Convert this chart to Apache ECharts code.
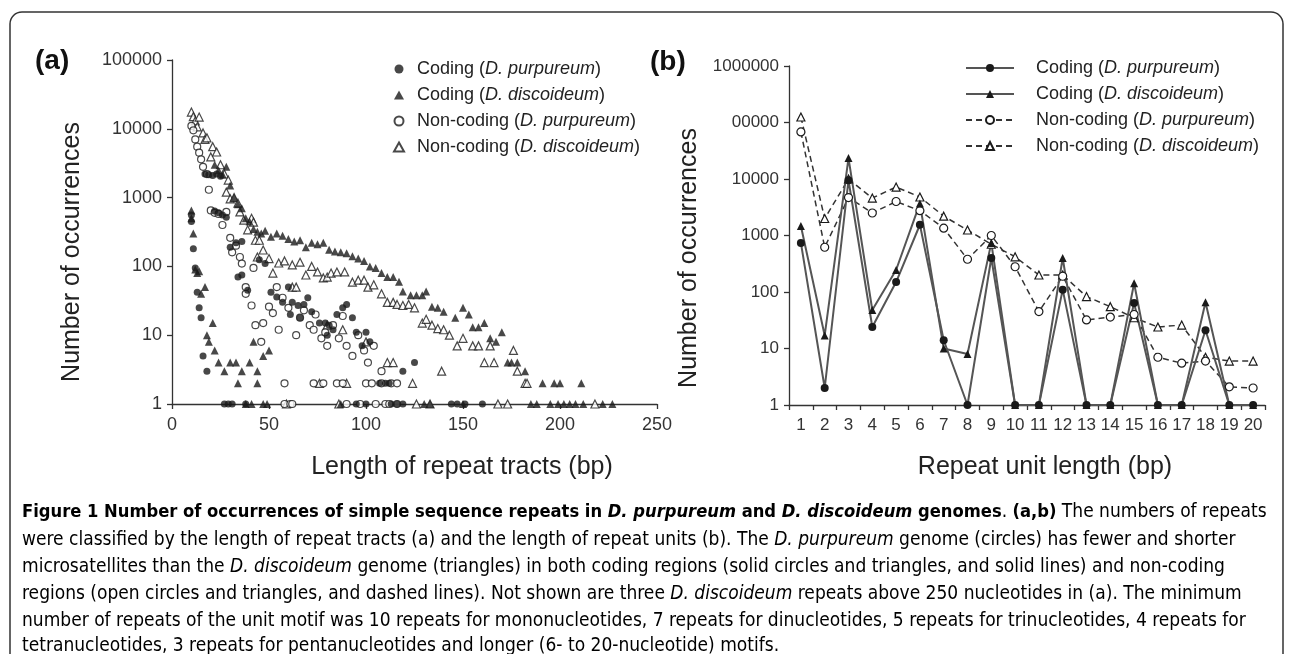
<!DOCTYPE html>
<html>
<head>
<meta charset="utf-8">
<script src="https://cdn.jsdelivr.net/npm/echarts@6/dist/echarts.min.js"></script>
<style>
html,body{margin:0;padding:0;background:#fff;}
#main{width:1290px;height:654px;}
</style>
</head>
<body>
<div id="main"></div>
<script>
// (a) [length of repeat tract (bp), number of occurrences]
var codingPurA = [
  [10,560],[10,450],[11,180],[12,95],[13,42],[14,25],[15,18],[16,5],[18,3],
  [17,2200],[19,2150],[21,2100],[23,2200],[25,2050],
  [22,640],[24,600],[26,560],[28,520],
  [30,190],[33,220],[36,230],[34,70],[36,75],[39,45],[45,125],[48,110],
  [51,42],[54,36],[57,30],[60,50],[62,30],[65,27],[68,28],[70,35],[61,20],[66,18],[72,22],
  [76,15],[79,15],[81,14],[83,12],[85,20],[88,25],[90,28],[93,18],[95,11],[100,11],[80,10],
  [98,7],[102,8],[107,2],[110,2],[112,2],[119,3],[125,4],
  [27,1],[29,1],[31,1],[38,1],[95,1],[100,1],[113,1],[116,1],[119,1],[144,1],[147,1],[151,1],[160,1]
];
var codingDisA = [
  [10,650],[10,500],[11,300],[12,90],[13,80],[14,85],[15,40],[17,50],[18,10],[19,8],[21,15],
  [22,6],[24,4],[27,3],[30,4],[33,4],[36,3],[40,4],[44,3],[34,2],[44,2],[47,5],[50,6],[42,8],
  [22,3000],[24,2500],[26,2200],[28,2800],[30,1500],[32,1000],[34,800],[36,700],[38,500],[40,450],
  [42,350],[44,320],[46,300],[48,330],[51,270],[54,300],[57,280],[60,250],[63,230],[66,240],
  [69,190],[72,220],[75,210],[78,220],[81,175],[84,165],[87,160],[90,155],[93,140],[96,130],
  [99,120],[102,100],[105,95],[108,80],[111,70],[114,70],[117,60],[119,43],[123,38],[126,38],
  [129,38],[131,43],[134,26],[137,25],[140,22],[146,18],[150,25],[153,20],[155,13],[158,13],
  [161,15],[164,9],[167,8],[170,11],[173,4],[175,4],[178,4],[182,3],[191,2],[197,2],[200,2],[211,2],
  [38,1],[41,1],[47,1],[49,1],[87,1],[130,1],[133,1],[150,1],[185,1],[188,1],[195,1],[199,1],
  [202,1],[205,1],[208,1],[212,1],[222,1],[227,1]
];
var nonPurA = [
  [10,11000],[11,9500],[12,7000],[13,5500],[14,4500],[15,3600],[16,2800],[18,2200],[19,1300],
  [20,650],[22,600],[24,580],[26,400],[28,620],[30,260],[31,160],[33,200],[35,137],[36,110],
  [38,50],[38,40],[41,27],[42,95],[43,14],[46,8],[47,15],[50,26],[52,21],[54,50],[55,12],[57,35],
  [60,25],[64,10],[66,18],[68,23],[71,14],[73,12],[74,20],[77,9],[79,11],[80,7],[83,14],[86,9],
  [88,19],[90,7],[93,5],[96,10],[99,6],[101,4],[104,7],[108,3],
  [58,2],[73,2],[78,2],[85,2],[88,2],[100,2],[103,2],[108,2],[113,2],[116,2],
  [58,1],[61,1],[62,1],[90,1],[97,1],[105,1],[110,1],[112,1],[116,1]
];
var nonDisA = [
  [10,17500],[11,15000],[12,13000],[13,10700],[14,14800],[16,8700],[17,7000],[18,7400],[20,3900],
  [21,5500],[23,4600],[25,3000],[27,2200],[28,1200],[29,1800],[30,960],[32,1000],[34,830],[35,620],
  [37,470],[39,340],[41,500],[42,440],[43,240],[44,137],[45,240],[47,173],[50,130],[52,80],[55,112],
  [58,120],[62,105],[62,50],[66,115],[69,75],[72,100],[75,83],[78,68],[80,70],[82,80],[85,83],
  [89,83],[93,59],[96,63],[99,63],[101,50],[104,54],[108,40],[111,30],[114,30],[116,28],[119,27],
  [122,28],[125,25],[129,15],[131,17],[134,14],[137,12.5],[140,12],[143,10],[147,7],[150,9],
  [155,7],[158,7],[161,4],[164,7],[166,4],[176,6],[178,3],[182,2],
  [64,50],[80,14],[88,12],[100,8],[111,4],[114,4],[139,3],[124,2],[183,2],[76,2],[90,2],
  [59,1],[86,1],[126,1],[133,1],[168,1],[173,1],[218,1]
];

// (b) repeat unit length (bp)
var unitLengths = ['1','2','3','4','5','6','7','8','9','10','11','12','13','14','15','16','17','18','19','20'];
var codingPurB = [740, 2, 9500, 24, 150, 1550, 14, 1, 400, 1, 1, 110, 1, 1, 64, 1, 1, 21, 1, 1];
var codingDisB = [1470, 17, 23500, 48, 245, 3700, 10, 8, 740, 1, 1, 400, 1, 1, 143, 1, 1, 66, 1, 1];
var nonPurB = [68000, 620, 4700, 2500, 4000, 2750, 1350, 380, 1000, 280, 45, 190, 32, 36, 40, 7, 5.5, 6, 2.1, 2];
var nonDisB = [125000, 2000, 10000, 4600, 7200, 4800, 2200, 1250, 700, 420, 200, 200, 83, 55, 35, 24, 26, 7, 6, 6];

// tick labels of the log axes ("00000" is clipped in the original figure)
var yTicksA = ['1','10','100','1000','10000','100000'];
var yTicksB = ['1','10','100','1000','10000','00000','1000000'];

// legend text: [prefix, species]
var legendParts = [
  ['Coding', 'D. purpureum'],
  ['Coding', 'D. discoideum'],
  ['Non-coding', 'D. purpureum'],
  ['Non-coding', 'D. discoideum']
];

var FONT = '"Liberation Sans", Arial, sans-serif';
var CAPFONT = '"Liberation Sans Narrow", "DejaVu Sans Condensed", sans-serif';
var INK = '#1a1a1a';
var AXIS = '#333';

var chart = echarts.init(document.getElementById('main'), null, {renderer: 'canvas'});

function logLabel(ticks) {
  return function (v) {
    var i = Math.round(Math.log(v) / Math.LN10);
    return ticks[i] !== undefined ? ticks[i] : '';
  };
}

function legendFmt(name) {
  var p = legendParts[+name.charAt(1)];
  return '{s|}{n|' + p[0] + ' (}{i|' + p[1] + '}{n|)}';
}

function legendRich(gap) {
  return {
    s: {width: gap},
    n: {fontFamily: FONT, fontSize: 18, color: '#222', lineHeight: 20},
    i: {fontFamily: FONT, fontSize: 18, color: '#222', fontStyle: 'italic', lineHeight: 20}
  };
}

var axisCommon = {
  axisLine: {show: true, lineStyle: {color: AXIS, width: 1.3}},
  axisTick: {show: true, inside: false, length: 5, lineStyle: {color: AXIS, width: 1.3}},
  splitLine: {show: false},
  axisLabel: {fontFamily: FONT, fontSize: 18, color: '#333'}
};

function ax(extra) {
  return echarts.util.merge(echarts.util.clone(axisCommon), extra, true);
}

var filled = {color: INK};
var open = {color: '#fff', borderColor: INK, borderWidth: 1.2};

/** 图注，每行一段 rich 文本 */
var captionLines = [
  '{b|Figure 1 Number of occurrences of simple sequence repeats in }{bi|D. purpureum}{b| and }{bi|D. discoideum}{b| genomes}{n|. }{b|(a,b)}{n| The numbers of repeats}',
  '{n|were classified by the length of repeat tracts (a) and the length of repeat units (b). The }{i|D. purpureum}{n| genome (circles) has fewer and shorter}',
  '{n|microsatellites than the }{i|D. discoideum}{n| genome (triangles) in both coding regions (solid circles and triangles, and solid lines) and non-coding}',
  '{n|regions (open circles and triangles, and dashed lines). Not shown are three }{i|D. discoideum}{n| repeats above 250 nucleotides in (a). The minimum}',
  '{n|number of repeats of the unit motif was 10 repeats for mononucleotides, 7 repeats for dinucleotides, 5 repeats for trinucleotides, 4 repeats for}',
  '{n|tetranucleotides, 3 repeats for pentanucleotides and longer (6- to 20-nucleotide) motifs.}'
];
var captionRich = {
  b: {fontFamily: CAPFONT, fontSize: 18.2, fontWeight: 'bold', color: '#111'},
  bi: {fontFamily: CAPFONT, fontSize: 18.2, fontWeight: 'bold', fontStyle: 'italic', color: '#111'},
  n: {fontFamily: CAPFONT, fontSize: 19, color: '#3a3a3a'},
  i: {fontFamily: CAPFONT, fontSize: 19, fontStyle: 'italic', color: '#3a3a3a'}
};
var captionY = [512, 540, 567, 594, 621, 646];

var graphics = [
  {type: 'rect', shape: {x: 10, y: 12, width: 1273, height: 720, r: 12}, style: {fill: 'none', stroke: '#333', lineWidth: 1.5}, silent: true},
  {type: 'text', x: 35, y: 61, style: {text: '(a)', font: 'bold 28px ' + FONT, fill: '#111', verticalAlign: 'middle'}},
  {type: 'text', x: 650, y: 62, style: {text: '(b)', font: 'bold 28px ' + FONT, fill: '#111', verticalAlign: 'middle'}},
  {type: 'text', x: 72, y: 252, rotation: Math.PI / 2, style: {text: 'Number of occurrences', font: '25px ' + FONT, fill: '#222', align: 'center', verticalAlign: 'middle'}},
  {type: 'text', x: 689, y: 258, rotation: Math.PI / 2, style: {text: 'Number of occurrences', font: '25px ' + FONT, fill: '#222', align: 'center', verticalAlign: 'middle'}},
  {type: 'text', x: 462, y: 467, style: {text: 'Length of repeat tracts (bp)', font: '25px ' + FONT, fill: '#222', align: 'center', verticalAlign: 'middle'}},
  {type: 'text', x: 1045, y: 467, style: {text: 'Repeat unit length (bp)', font: '25px ' + FONT, fill: '#222', align: 'center', verticalAlign: 'middle'}}
];
for (var k = 0; k < captionLines.length; k++) {
  graphics.push({type: 'text', x: 22, y: captionY[k], style: {text: captionLines[k], rich: captionRich, verticalAlign: 'middle'}});
}

var option = {
  animation: false,
  backgroundColor: '#fff',
  grid: [
    {left: 172, top: 60, width: 485, height: 344},
    {left: 789, top: 66, width: 476, height: 339}
  ],
  xAxis: [
    ax({gridIndex: 0, type: 'value', min: 0, max: 250, interval: 50, axisLabel: {margin: 12}}),
    ax({gridIndex: 1, type: 'category', data: unitLengths, axisLabel: {fontSize: 17, margin: 12, interval: 0}, axisTick: {interval: 0}})
  ],
  yAxis: [
    ax({gridIndex: 0, type: 'log', logBase: 10, min: 1, max: 100000, axisLabel: {margin: 10, formatter: logLabel(yTicksA)}}),
    ax({gridIndex: 1, type: 'log', logBase: 10, min: 1, max: 1000000, axisLabel: {margin: 10, fontSize: 17, formatter: logLabel(yTicksB)}})
  ],
  legend: [
    {data: ['a0', 'a1', 'a2', 'a3'], orient: 'vertical', left: 388, top: 55, itemWidth: 10, itemHeight: 9, itemGap: 8,
      selectedMode: false, formatter: legendFmt, textStyle: {rich: legendRich(8)}},
    {data: ['b0', 'b1', 'b2', 'b3'], orient: 'vertical', left: 960, top: 54, itemWidth: 48, itemHeight: 10, itemGap: 8,
      selectedMode: false, formatter: legendFmt, textStyle: {rich: legendRich(17)}}
  ],
  graphic: graphics,
  series: [
    {name: 'a3', type: 'scatter', xAxisIndex: 0, yAxisIndex: 0, clip: false, data: nonDisA, symbol: 'triangle', symbolSize: 8, itemStyle: open},
    {name: 'a2', type: 'scatter', xAxisIndex: 0, yAxisIndex: 0, clip: false, data: nonPurA, symbol: 'circle', symbolSize: 7, itemStyle: open},
    {name: 'a1', type: 'scatter', xAxisIndex: 0, yAxisIndex: 0, clip: false, data: codingDisA, symbol: 'triangle', symbolSize: 8, itemStyle: filled},
    {name: 'a0', type: 'scatter', xAxisIndex: 0, yAxisIndex: 0, clip: false, data: codingPurA, symbol: 'circle', symbolSize: 7, itemStyle: filled},

    {name: 'b3', type: 'line', xAxisIndex: 1, yAxisIndex: 1, data: nonDisB, symbol: 'triangle', symbolSize: 8, showAllSymbol: true,
      itemStyle: open, lineStyle: {color: AXIS, width: 1.5, type: [6, 4]}},
    {name: 'b2', type: 'line', xAxisIndex: 1, yAxisIndex: 1, data: nonPurB, symbol: 'circle', symbolSize: 8, showAllSymbol: true,
      itemStyle: open, lineStyle: {color: AXIS, width: 1.5, type: [6, 4]}},
    {name: 'b1', type: 'line', xAxisIndex: 1, yAxisIndex: 1, data: codingDisB, symbol: 'triangle', symbolSize: 8, showAllSymbol: true,
      itemStyle: filled, lineStyle: {color: '#555', width: 2}},
    {name: 'b0', type: 'line', xAxisIndex: 1, yAxisIndex: 1, data: codingPurB, symbol: 'circle', symbolSize: 8, showAllSymbol: true,
      itemStyle: filled, lineStyle: {color: '#555', width: 2}}
  ]
};

chart.setOption(option);
</script>
</body>
</html>
